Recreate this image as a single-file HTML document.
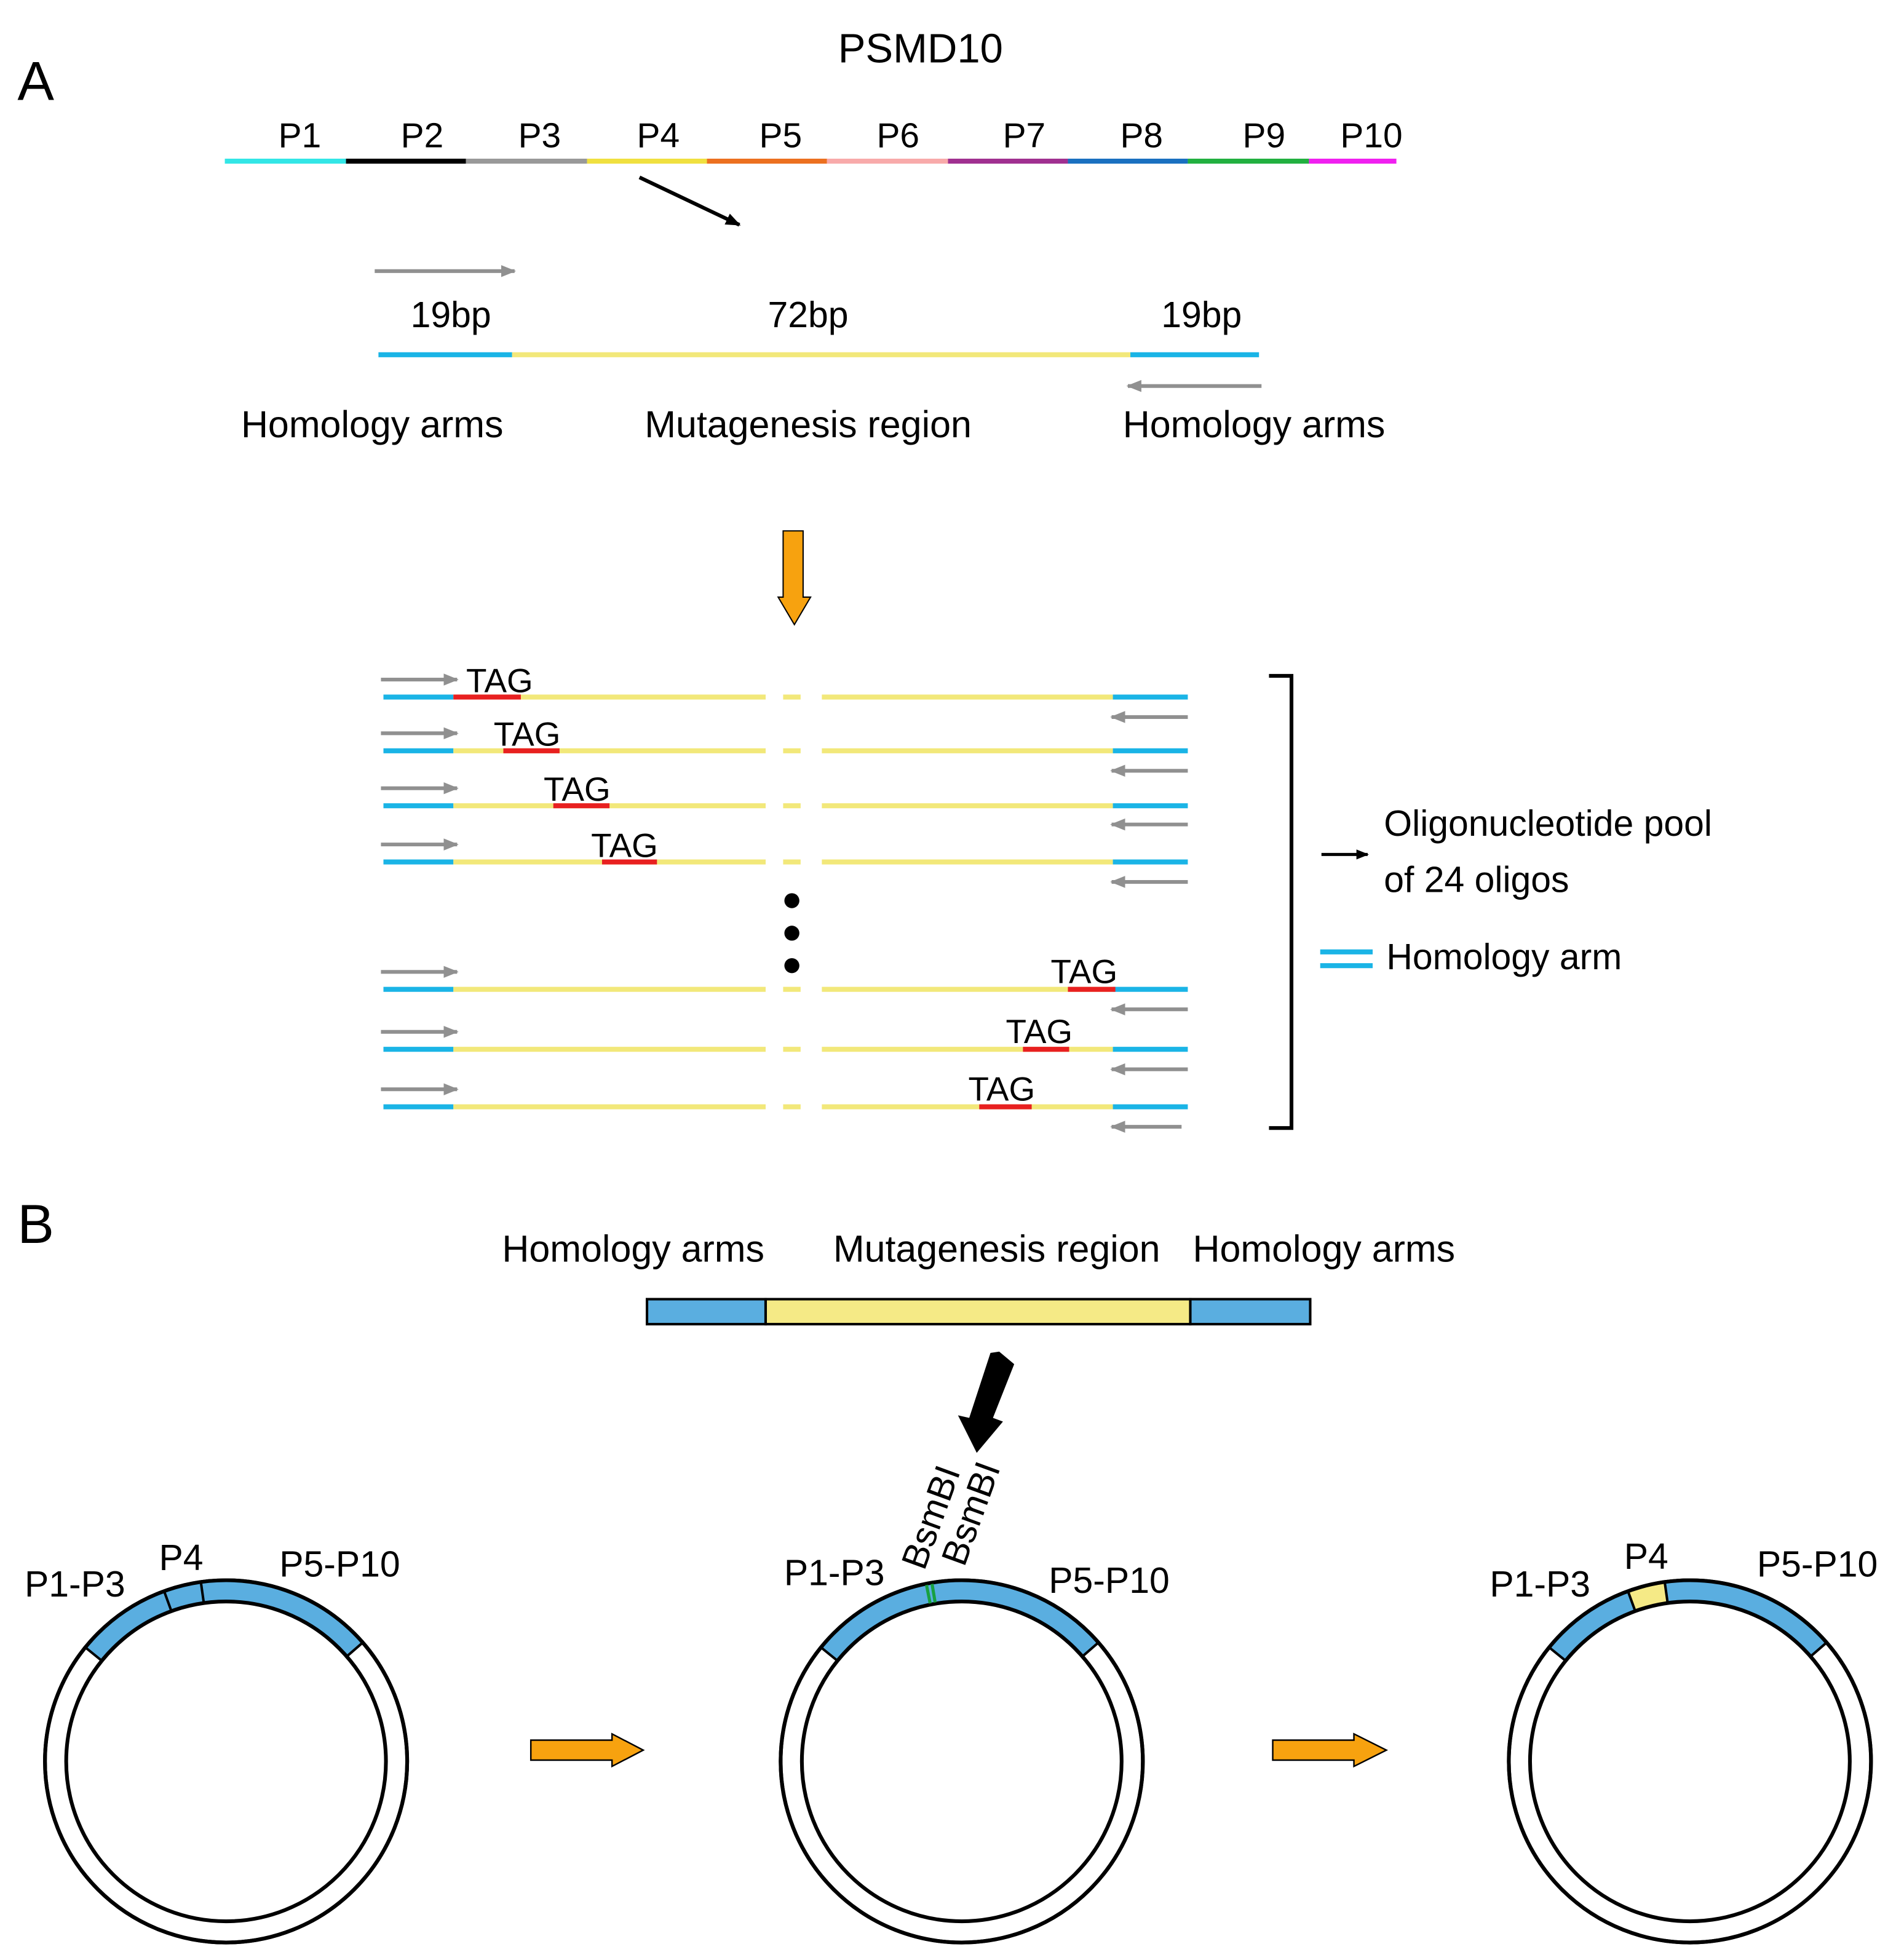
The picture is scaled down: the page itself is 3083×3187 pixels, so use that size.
<!DOCTYPE html>
<html><head><meta charset="utf-8"><style>
html,body{margin:0;padding:0;background:#fff}
svg{display:block}
text{font-family:"Liberation Sans",Arial,sans-serif;fill:#000}
</style></head><body>
<svg width="3083" height="3187" viewBox="0 0 1518 1569" preserveAspectRatio="none" xmlns="http://www.w3.org/2000/svg">
<defs>
<marker id="ga" viewBox="0 0 10 10" refX="9" refY="5" markerWidth="4" markerHeight="4" orient="auto"><path d="M0,1 L10,5 L0,9 z" fill="#909090"/></marker>
<marker id="ba" viewBox="0 0 10 10" refX="9" refY="5" markerWidth="4" markerHeight="4" orient="auto"><path d="M0,1 L10,5 L0,9 z" fill="#000"/></marker>
</defs>
<text x="14" y="80" font-size="44">A</text>
<text x="737" y="50" font-size="33" text-anchor="middle">PSMD10</text>
<g stroke-width="4">
<line x1="180" y1="129" x2="277" y2="129" stroke="#33e6e6"/>
<line x1="277" y1="129" x2="373" y2="129" stroke="#000"/>
<line x1="373" y1="129" x2="470" y2="129" stroke="#999"/>
<line x1="470" y1="129" x2="566" y2="129" stroke="#f0e040"/>
<line x1="566" y1="129" x2="662" y2="129" stroke="#ec7020"/>
<line x1="662" y1="129" x2="759" y2="129" stroke="#f8aaaa"/>
<line x1="759" y1="129" x2="855" y2="129" stroke="#a03090"/>
<line x1="855" y1="129" x2="951" y2="129" stroke="#1a70c0"/>
<line x1="951" y1="129" x2="1048" y2="129" stroke="#22b040"/>
<line x1="1048" y1="129" x2="1118" y2="129" stroke="#f020f0"/>
</g>
<g font-size="28" text-anchor="middle">
<text x="240" y="118">P1</text><text x="338" y="118">P2</text><text x="432" y="118">P3</text><text x="527" y="118">P4</text><text x="625" y="118">P5</text><text x="719" y="118">P6</text><text x="820" y="118">P7</text><text x="914" y="118">P8</text><text x="1012" y="118">P9</text><text x="1098" y="118">P10</text>
</g>
<line x1="512" y1="142" x2="592" y2="180" stroke="#000" stroke-width="3" marker-end="url(#ba)"/>
<line x1="300" y1="217" x2="412" y2="217" stroke="#909090" stroke-width="3" marker-end="url(#ga)"/>
<g font-size="29" text-anchor="middle"><text x="361" y="262">19bp</text><text x="647" y="262">72bp</text><text x="962" y="262">19bp</text></g>
<line x1="303" y1="284" x2="410" y2="284" stroke="#1ab4e6" stroke-width="4"/>
<line x1="410" y1="284" x2="905" y2="284" stroke="#f2e87a" stroke-width="4"/>
<line x1="905" y1="284" x2="1008" y2="284" stroke="#1ab4e6" stroke-width="4"/>
<line x1="1010" y1="309" x2="903" y2="309" stroke="#909090" stroke-width="3" marker-end="url(#ga)"/>
<g font-size="30" text-anchor="middle"><text x="298" y="350">Homology arms</text><text x="647" y="350">Mutagenesis region</text><text x="1004" y="350">Homology arms</text></g>
<path d="M627,425 H643 V478 H649 L636,500 L623,478 H627 Z" fill="#f7a20f" stroke="#000" stroke-width="1"/>
<g stroke-width="4">
<line x1="307" y1="558" x2="363" y2="558" stroke="#1ab4e6"/><line x1="363" y1="558" x2="613" y2="558" stroke="#f2e87a"/><line x1="627" y1="558" x2="641" y2="558" stroke="#f2e87a"/><line x1="658" y1="558" x2="891" y2="558" stroke="#f2e87a"/><line x1="891" y1="558" x2="951" y2="558" stroke="#1ab4e6"/>
<line x1="307" y1="601" x2="363" y2="601" stroke="#1ab4e6"/><line x1="363" y1="601" x2="613" y2="601" stroke="#f2e87a"/><line x1="627" y1="601" x2="641" y2="601" stroke="#f2e87a"/><line x1="658" y1="601" x2="891" y2="601" stroke="#f2e87a"/><line x1="891" y1="601" x2="951" y2="601" stroke="#1ab4e6"/>
<line x1="307" y1="645" x2="363" y2="645" stroke="#1ab4e6"/><line x1="363" y1="645" x2="613" y2="645" stroke="#f2e87a"/><line x1="627" y1="645" x2="641" y2="645" stroke="#f2e87a"/><line x1="658" y1="645" x2="891" y2="645" stroke="#f2e87a"/><line x1="891" y1="645" x2="951" y2="645" stroke="#1ab4e6"/>
<line x1="307" y1="690" x2="363" y2="690" stroke="#1ab4e6"/><line x1="363" y1="690" x2="613" y2="690" stroke="#f2e87a"/><line x1="627" y1="690" x2="641" y2="690" stroke="#f2e87a"/><line x1="658" y1="690" x2="891" y2="690" stroke="#f2e87a"/><line x1="891" y1="690" x2="951" y2="690" stroke="#1ab4e6"/>
<line x1="307" y1="792" x2="363" y2="792" stroke="#1ab4e6"/><line x1="363" y1="792" x2="613" y2="792" stroke="#f2e87a"/><line x1="627" y1="792" x2="641" y2="792" stroke="#f2e87a"/><line x1="658" y1="792" x2="891" y2="792" stroke="#f2e87a"/><line x1="891" y1="792" x2="951" y2="792" stroke="#1ab4e6"/>
<line x1="307" y1="840" x2="363" y2="840" stroke="#1ab4e6"/><line x1="363" y1="840" x2="613" y2="840" stroke="#f2e87a"/><line x1="627" y1="840" x2="641" y2="840" stroke="#f2e87a"/><line x1="658" y1="840" x2="891" y2="840" stroke="#f2e87a"/><line x1="891" y1="840" x2="951" y2="840" stroke="#1ab4e6"/>
<line x1="307" y1="886" x2="363" y2="886" stroke="#1ab4e6"/><line x1="363" y1="886" x2="613" y2="886" stroke="#f2e87a"/><line x1="627" y1="886" x2="641" y2="886" stroke="#f2e87a"/><line x1="658" y1="886" x2="891" y2="886" stroke="#f2e87a"/><line x1="891" y1="886" x2="951" y2="886" stroke="#1ab4e6"/>
<g stroke="#e82020">
<line x1="363" y1="558" x2="417" y2="558"/><line x1="403" y1="601" x2="448" y2="601"/><line x1="443" y1="645" x2="488" y2="645"/><line x1="482" y1="690" x2="526" y2="690"/><line x1="855" y1="792" x2="893" y2="792"/><line x1="819" y1="840" x2="856" y2="840"/><line x1="784" y1="886" x2="826" y2="886"/>
</g>
</g>
<g font-size="27" text-anchor="middle">
<text x="400" y="554">TAG</text><text x="422" y="597">TAG</text><text x="462" y="641">TAG</text><text x="500" y="686">TAG</text><text x="868" y="787">TAG</text><text x="832" y="835">TAG</text><text x="802" y="881">TAG</text>
</g>
<g stroke="#909090" stroke-width="3" marker-end="url(#ga)">
<line x1="305" y1="544" x2="366" y2="544"/><line x1="305" y1="587" x2="366" y2="587"/><line x1="305" y1="631" x2="366" y2="631"/><line x1="305" y1="676" x2="366" y2="676"/><line x1="305" y1="778" x2="366" y2="778"/><line x1="305" y1="826" x2="366" y2="826"/><line x1="305" y1="872" x2="366" y2="872"/>
<line x1="951" y1="574" x2="890" y2="574"/><line x1="951" y1="617" x2="890" y2="617"/><line x1="951" y1="660" x2="890" y2="660"/><line x1="951" y1="706" x2="890" y2="706"/><line x1="951" y1="808" x2="890" y2="808"/><line x1="951" y1="856" x2="890" y2="856"/><line x1="946" y1="902" x2="890" y2="902"/>
</g>
<circle cx="634" cy="721" r="6"/><circle cx="634" cy="747" r="6"/><circle cx="634" cy="773" r="6"/>
<path d="M1016,541 H1034 V903 H1016" fill="none" stroke="#000" stroke-width="3"/>
<line x1="1058" y1="684" x2="1095" y2="684" stroke="#000" stroke-width="2.5" marker-end="url(#ba)"/>
<g font-size="29"><text x="1108" y="669">Oligonucleotide pool</text><text x="1108" y="714">of 24 oligos</text><text x="1110" y="776">Homology arm</text></g>
<line x1="1057" y1="762" x2="1099" y2="762" stroke="#1ab4e6" stroke-width="4"/><line x1="1057" y1="773" x2="1099" y2="773" stroke="#1ab4e6" stroke-width="4"/>

<text x="14" y="995" font-size="44">B</text>
<g font-size="30" text-anchor="middle"><text x="507" y="1010">Homology arms</text><text x="798" y="1010">Mutagenesis region</text><text x="1060" y="1010">Homology arms</text></g>
<rect x="518" y="1040" width="95" height="20" fill="#5aaee0" stroke="#000" stroke-width="2"/>
<rect x="613" y="1040" width="340" height="20" fill="#f5ea86" stroke="#000" stroke-width="2"/>
<rect x="953" y="1040" width="96" height="20" fill="#5aaee0" stroke="#000" stroke-width="2"/>
<path d="M800,1082 L812,1092 L795,1135 L803,1138 L782,1163 L767,1133 L776,1135 L793,1083 Z" fill="#000"/>

<g transform="translate(181,1410)">
<circle r="145" fill="#fff" stroke="#000" stroke-width="3"/>
<path d="M-106.1,-85.9 A136.5,136.5 0 0 1 103,-89.5" fill="none" stroke="#5aaee0" stroke-width="17"/>
<circle r="145" fill="none" stroke="#000" stroke-width="3"/><circle r="128" fill="none" stroke="#000" stroke-width="3"/>
<g stroke="#000" stroke-width="2"><line x1="128" x2="145" transform="rotate(-141)"/><line x1="128" x2="145" transform="rotate(-41)"/><line x1="128" x2="145" transform="rotate(-110)"/><line x1="128" x2="145" transform="rotate(-98)"/></g>
</g>
<g transform="translate(770,1410)">
<circle r="145" fill="#fff" stroke="#000" stroke-width="3"/>
<path d="M-106.1,-85.9 A136.5,136.5 0 0 1 103,-89.5" fill="none" stroke="#5aaee0" stroke-width="17"/>
<circle r="145" fill="none" stroke="#000" stroke-width="3"/><circle r="128" fill="none" stroke="#000" stroke-width="3"/>
<g stroke="#000" stroke-width="2"><line x1="128" x2="145" transform="rotate(-141)"/><line x1="128" x2="145" transform="rotate(-41)"/></g>
<g stroke="#18a040" stroke-width="2.5"><line x1="129" x2="144" transform="rotate(-99.5)"/><line x1="129" x2="144" transform="rotate(-101.3)"/></g>
</g>
<g transform="translate(1353,1410)">
<circle r="145" fill="#fff" stroke="#000" stroke-width="3"/>
<path d="M-106.1,-85.9 A136.5,136.5 0 0 1 103,-89.5" fill="none" stroke="#5aaee0" stroke-width="17"/>
<path d="M-46.7,-128.3 A136.5,136.5 0 0 1 -19,-135.2" fill="none" stroke="#f5ea86" stroke-width="17"/>
<circle r="145" fill="none" stroke="#000" stroke-width="3"/><circle r="128" fill="none" stroke="#000" stroke-width="3"/>
<g stroke="#000" stroke-width="2"><line x1="128" x2="145" transform="rotate(-141)"/><line x1="128" x2="145" transform="rotate(-41)"/><line x1="128" x2="145" transform="rotate(-110)"/><line x1="128" x2="145" transform="rotate(-98)"/></g>
</g>
<path d="M425,1393 H490 V1388 L515,1401 L490,1414 V1409 H425 Z" fill="#f7a20f" stroke="#000" stroke-width="1.2"/>
<path d="M1019,1393 H1084 V1388 L1110,1401 L1084,1414 V1409 H1019 Z" fill="#f7a20f" stroke="#000" stroke-width="1.2"/>
<g font-size="29" text-anchor="middle">
<text x="60" y="1278">P1-P3</text><text x="145" y="1257">P4</text><text x="272" y="1262">P5-P10</text>
<text x="668" y="1269">P1-P3</text><text x="888" y="1275">P5-P10</text>
<text x="1233" y="1278">P1-P3</text><text x="1318" y="1256">P4</text><text x="1455" y="1262">P5-P10</text>
</g>
<g font-size="29"><text transform="translate(740,1258) rotate(-70)">BsmBI</text><text transform="translate(772,1255) rotate(-70)">BsmBI</text></g>
</svg>
</body></html>
